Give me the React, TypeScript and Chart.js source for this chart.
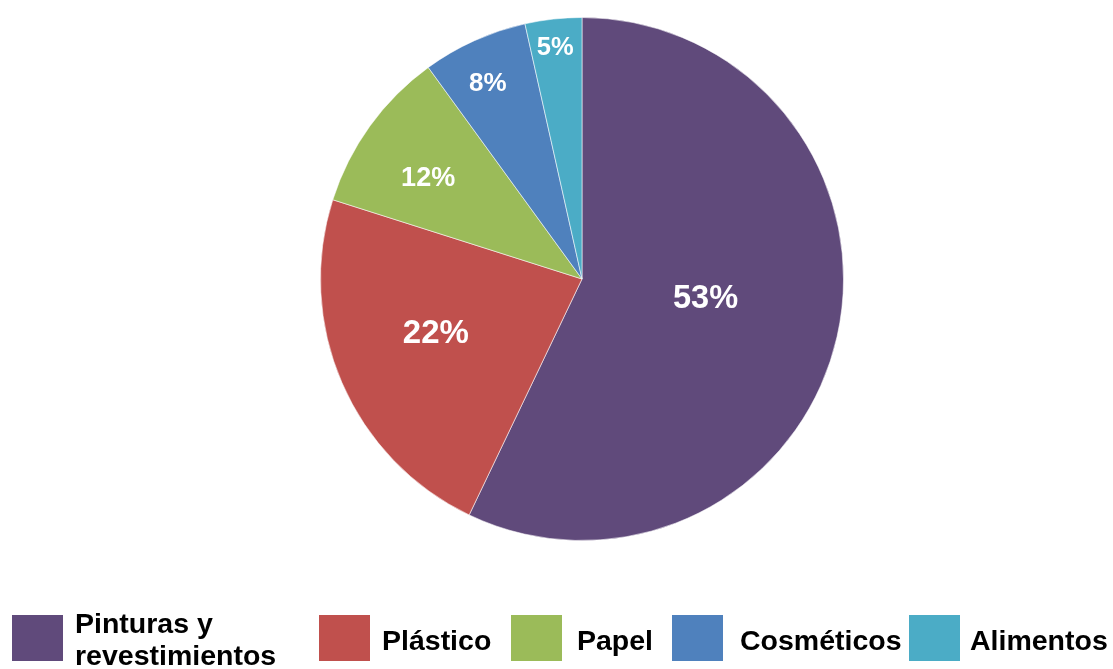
import React, { useEffect, useRef } from "react";
import { Chart, registerables } from "chart.js";

Chart.register(...registerables);

// ---- data ----
const categories = ["Pinturas y revestimientos", "Plástico", "Papel", "Cosméticos", "Alimentos"];
// slice sizes as drawn in the picture
const drawnShares = [57.1, 22.8, 10.1, 6.5, 3.5];
// printed labels
const percentLabels = ["53%", "22%", "12%", "8%", "5%"];
const legendLines = [["Pinturas y", "revestimientos"], ["Plástico"], ["Papel"], ["Cosméticos"], ["Alimentos"]];

// ---- styles ----
const colors = ["#604A7B", "#C0504D", "#9BBB59", "#4F81BD", "#4BACC6"];
const labelAngleFraction = [0.487, 0.525, 0.41, 0.43, 0.47];
const labelRadiusFactor = [0.48, 0.6, 0.698, 0.823, 0.88];
const labelFontSize = [32.5, 33, 27, 26, 25.5];
const legendSquareX = [12, 319, 511, 672, 909];
const legendTextX = [75, 382, 577, 740, 970];

const FONT = "'Liberation Sans', Arial, sans-serif";

const sliceLabels = {
  id: "sliceLabels",
  afterDatasetsDraw(chart: any) {
    const ctx = chart.ctx;
    const meta = chart.getDatasetMeta(0);
    ctx.save();
    ctx.fillStyle = "#ffffff";
    ctx.textAlign = "center";
    ctx.textBaseline = "middle";
    meta.data.forEach((arc: any, i: number) => {
      const p = arc.getProps(["x", "y", "startAngle", "endAngle", "outerRadius"], true);
      const a = p.startAngle + (p.endAngle - p.startAngle) * labelAngleFraction[i];
      const r = p.outerRadius * labelRadiusFactor[i];
      ctx.font = `bold ${labelFontSize[i]}px ${FONT}`;
      ctx.fillText(percentLabels[i], p.x + Math.cos(a) * r, p.y + Math.sin(a) * r - 2);
    });
    ctx.restore();
  },
};

const customLegend = {
  id: "customLegend",
  afterDraw(chart: any) {
    const ctx = chart.ctx;
    ctx.save();
    ctx.font = `bold 28.5px ${FONT}`;
    ctx.textBaseline = "alphabetic";
    ctx.textAlign = "left";
    categories.forEach((_c, i) => {
      ctx.fillStyle = colors[i];
      ctx.fillRect(legendSquareX[i], 615, 51, 46);
      ctx.fillStyle = "#000000";
      const lines = legendLines[i];
      if (lines.length === 1) {
        ctx.fillText(lines[0], legendTextX[i], 650);
      } else {
        ctx.fillText(lines[0], legendTextX[i], 633);
        ctx.fillText(lines[1], legendTextX[i], 665);
      }
    });
    ctx.restore();
  },
};

export default function App() {
  const ref = useRef<HTMLCanvasElement | null>(null);
  useEffect(() => {
    document.body.style.margin = "0";
    const chart = new Chart(ref.current as HTMLCanvasElement, {
      type: "pie",
      data: {
        labels: categories,
        datasets: [
          {
            data: drawnShares,
            backgroundColor: colors,
            borderColor: "rgba(255,255,255,0.55)",
            borderWidth: 1,
          },
        ],
      },
      options: {
        responsive: false,
        animation: false,
        layout: { padding: { top: 17, bottom: 128, left: 51, right: 0 } },
        plugins: {
          legend: { display: false },
          tooltip: { enabled: false },
        },
      },
      plugins: [sliceLabels, customLegend],
    });
    return () => chart.destroy();
  }, []);
  return (
    <div style={{ position: "absolute", left: 0, top: 0, width: 1113, height: 669, background: "#fff" }}>
      <canvas ref={ref} width={1113} height={669} />
    </div>
  );
}
